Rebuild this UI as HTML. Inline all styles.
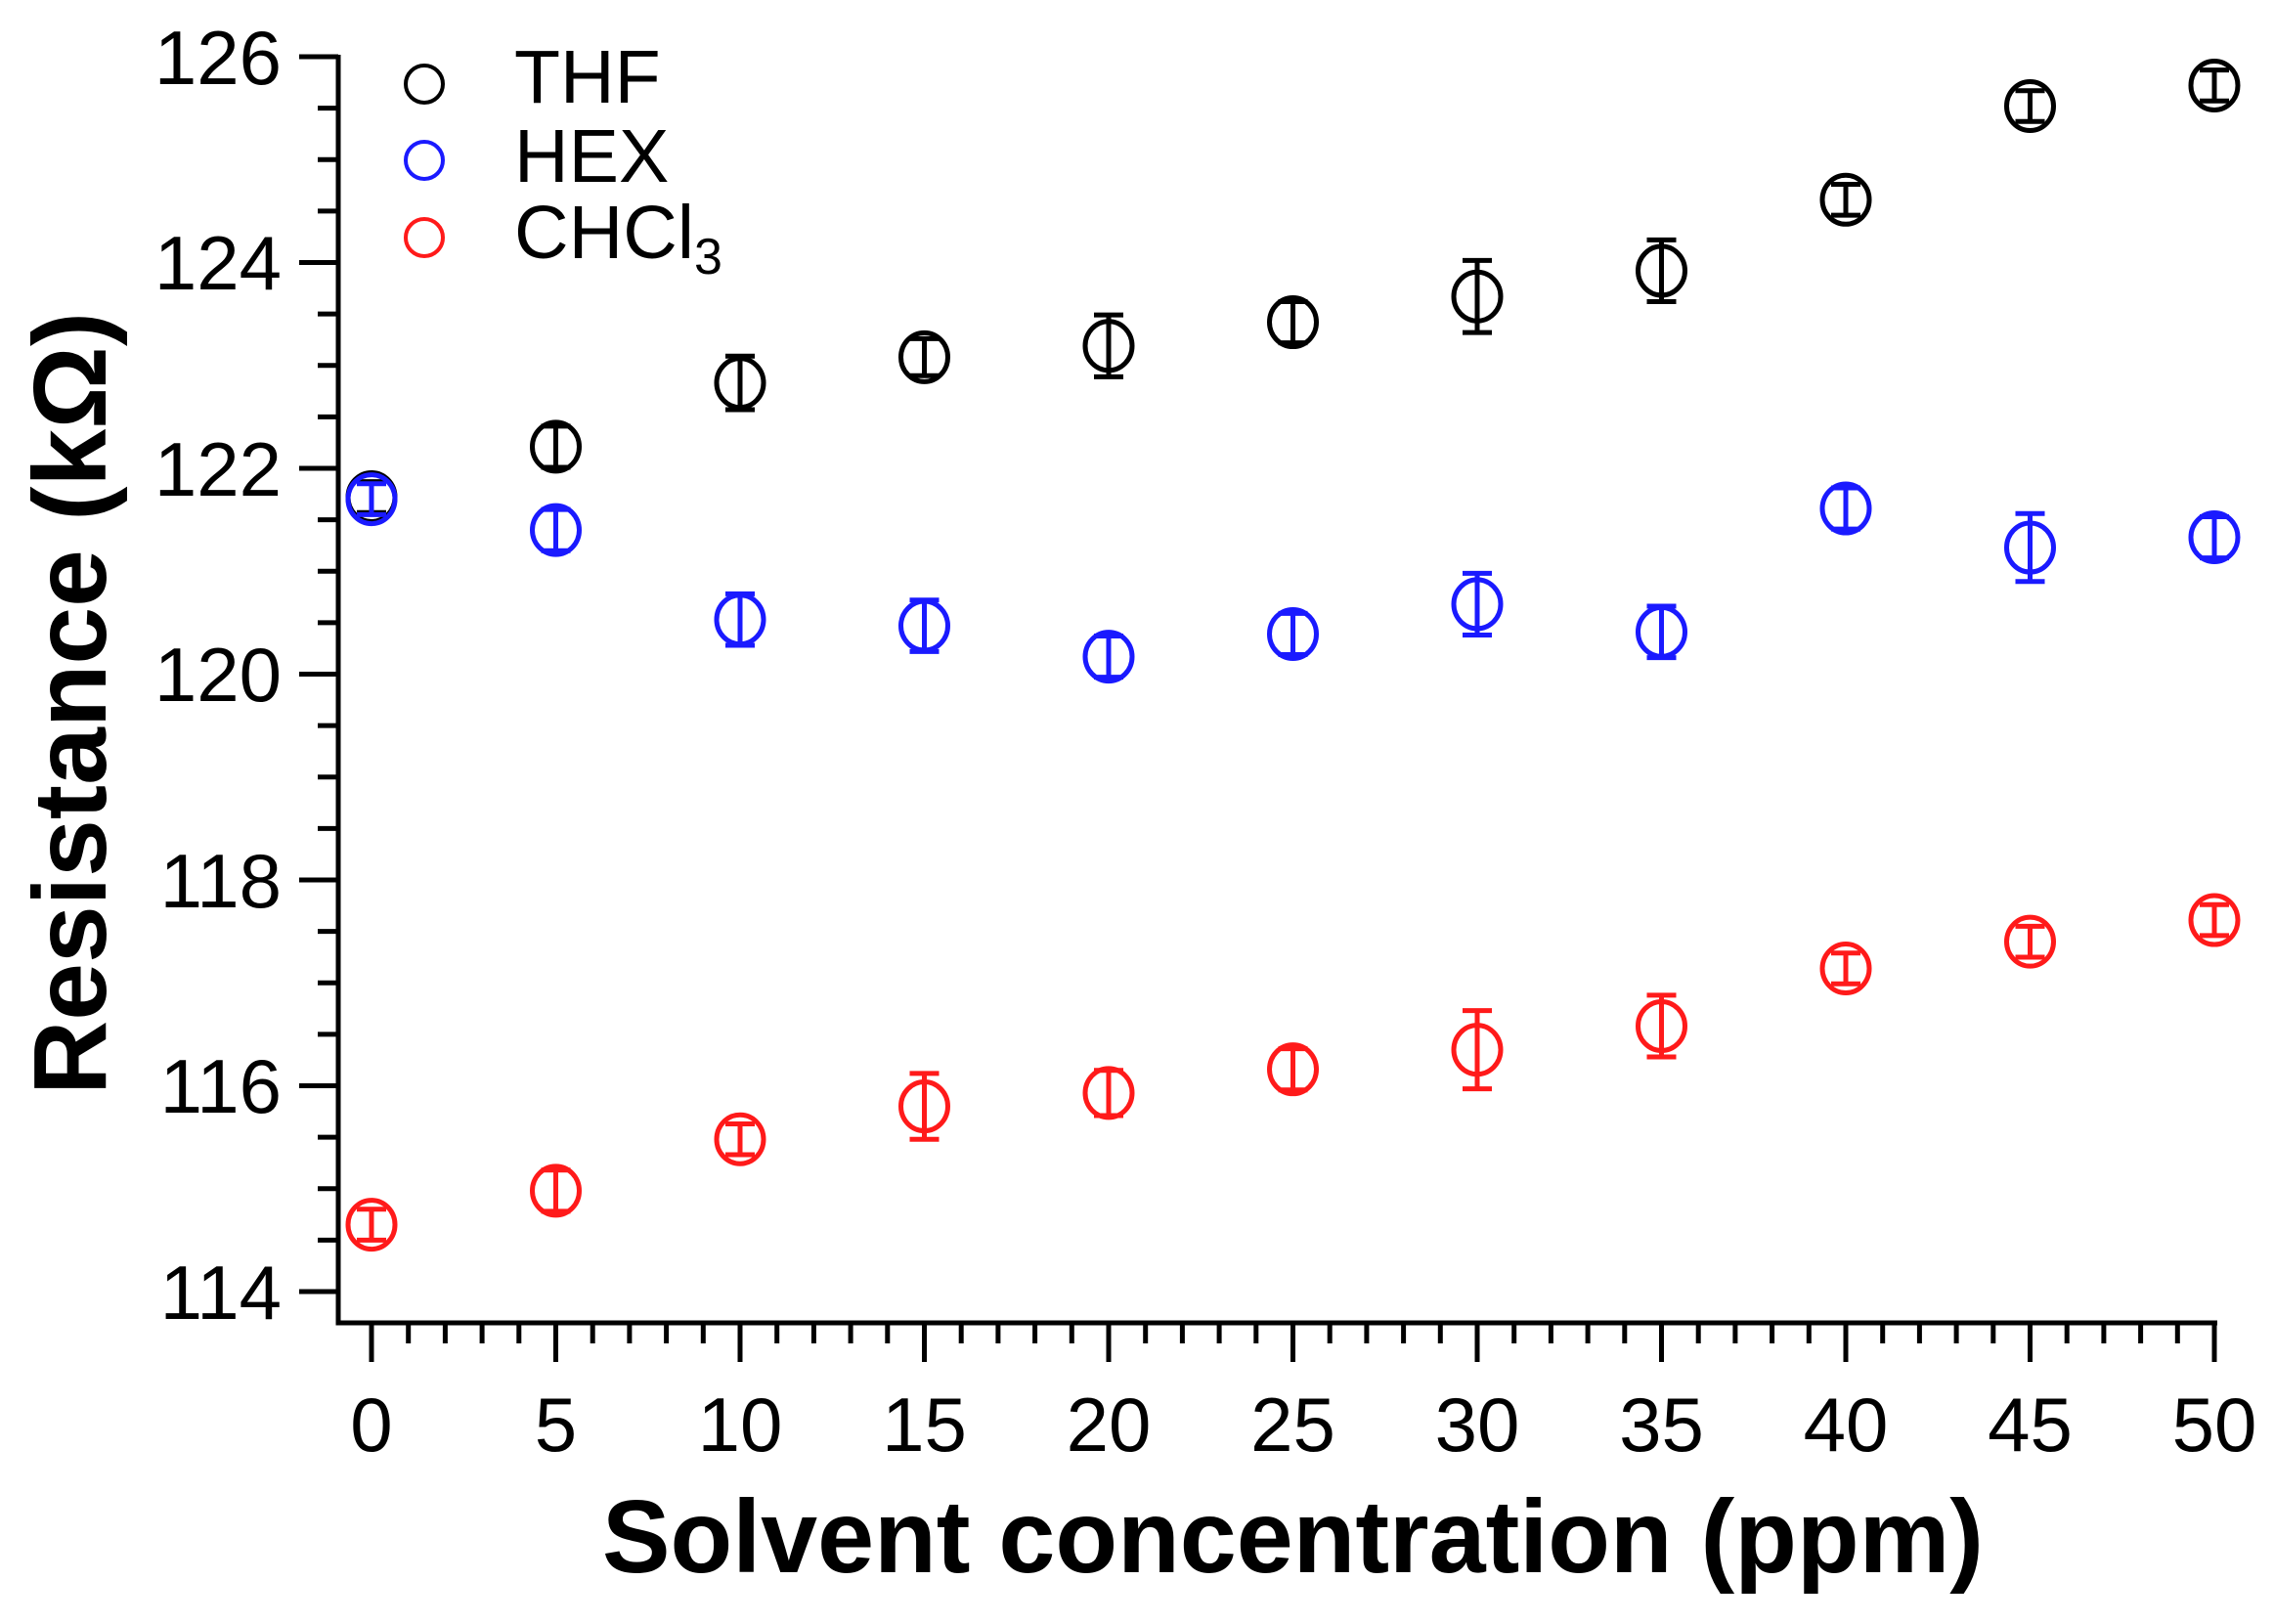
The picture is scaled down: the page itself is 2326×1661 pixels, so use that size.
<!DOCTYPE html>
<html><head><meta charset="utf-8"><style>html,body{margin:0;padding:0;background:#fff}svg{display:block}</style></head>
<body>
<svg id="s" width="2326" height="1661" viewBox="0 0 2326 1661" xmlns="http://www.w3.org/2000/svg" font-family="Liberation Sans, sans-serif">
<rect width="2326" height="1661" fill="#fff"/>
<g id="axes" stroke="#000" stroke-width="5" fill="none">
<path d="M346 56 V1353 H2268"/>
</g>
<g font-size="78" text-anchor="end" fill="#000">
<text x="288" y="86">126</text>
<text x="288" y="296">124</text>
<text x="288" y="507">122</text>
<text x="288" y="717">120</text>
<text x="288" y="928">118</text>
<text x="288" y="1138">116</text>
<text x="288" y="1349">114</text>
</g>
<g font-size="78" text-anchor="middle" fill="#000">
<text x="380" y="1484">0</text>
<text x="568.5" y="1484">5</text>
<text x="757" y="1484">10</text>
<text x="945.5" y="1484">15</text>
<text x="1134" y="1484">20</text>
<text x="1322.5" y="1484">25</text>
<text x="1511" y="1484">30</text>
<text x="1699.5" y="1484">35</text>
<text x="1888" y="1484">40</text>
<text x="2076.5" y="1484">45</text>
<text x="2265" y="1484">50</text>
</g>
<text x="616" y="1608" font-size="106" font-weight="bold" textLength="1413" lengthAdjust="spacingAndGlyphs">Solvent concentration (ppm)</text>
<text transform="translate(108,1120) rotate(-90)" font-size="106" font-weight="bold" textLength="801" lengthAdjust="spacingAndGlyphs">Resistance (kΩ)</text>
<g fill="none" stroke-width="4">
<circle cx="434" cy="86" r="19" stroke="#000"/>
<circle cx="434" cy="164" r="19" stroke="#1a1aff"/>
<circle cx="434" cy="243" r="19" stroke="#ff1a1a"/>
</g>
<g font-size="77" fill="#000">
<text x="526" y="105">THF</text>
<text x="526" y="186">HEX</text>
<text x="526" y="264">CHCl<tspan font-size="52" dy="16">3</tspan></text>
</g>
<g id="data"></g>
</svg>
<script>
var ns="http://www.w3.org/2000/svg";
function X(p){return 380+37.7*p;}
function Y(v){return 58+(126-v)*105.25;}
var ax=document.getElementById('axes');
function ln(x1,y1,x2,y2,par,col,w){var l=document.createElementNS(ns,'line');l.setAttribute('x1',x1);l.setAttribute('y1',y1);l.setAttribute('x2',x2);l.setAttribute('y2',y2);if(col)l.setAttribute('stroke',col);if(w)l.setAttribute('stroke-width',w);par.appendChild(l);}
for(var p=0;p<=50;p++){ln(X(p),1353,X(p),1353+(p%5==0?40:21),ax);}
for(var v=114;v<=126.001;v+=0.5){var maj=Math.abs(v-Math.round(v/2)*2)<0.01;ln(346,Y(v),346-(maj?40:21),Y(v),ax);}
var xs=[0,5,10,15,20,25,30,35,40,45,50];
var S=[
["#000",[121.72,122.21,122.83,123.08,123.19,123.42,123.67,123.92,124.61,125.52,125.72],[0.15,0.2,0.26,0.18,0.3,0.2,0.35,0.3,0.15,0.15,0.15]],
["#1a1aff",[121.70,121.40,120.53,120.47,120.17,120.39,120.68,120.41,121.61,121.23,121.33],[0.15,0.2,0.25,0.25,0.2,0.2,0.3,0.25,0.2,0.33,0.2]],
["#ff1a1a",[114.65,114.98,115.48,115.80,115.93,116.16,116.35,116.58,117.14,117.40,117.61],[0.15,0.2,0.15,0.32,0.22,0.2,0.38,0.3,0.15,0.15,0.15]]];
var d=document.getElementById('data');
S.forEach(function(s){
 var g=document.createElementNS(ns,'g');g.setAttribute('stroke',s[0]);g.setAttribute('fill','none');g.setAttribute('stroke-width','5');d.appendChild(g);
 xs.forEach(function(p,i){var x=X(p),y=Y(s[1][i]),e=s[2][i]*105.25;
  ln(x,y-e,x,y+e,g);ln(x-15,y-e,x+15,y-e,g);ln(x-15,y+e,x+15,y+e,g);
  var c=document.createElementNS(ns,'ellipse');c.setAttribute('cx',x);c.setAttribute('cy',y);c.setAttribute('rx',24);c.setAttribute('ry',25);g.appendChild(c);});
});
</script>
</body></html>
